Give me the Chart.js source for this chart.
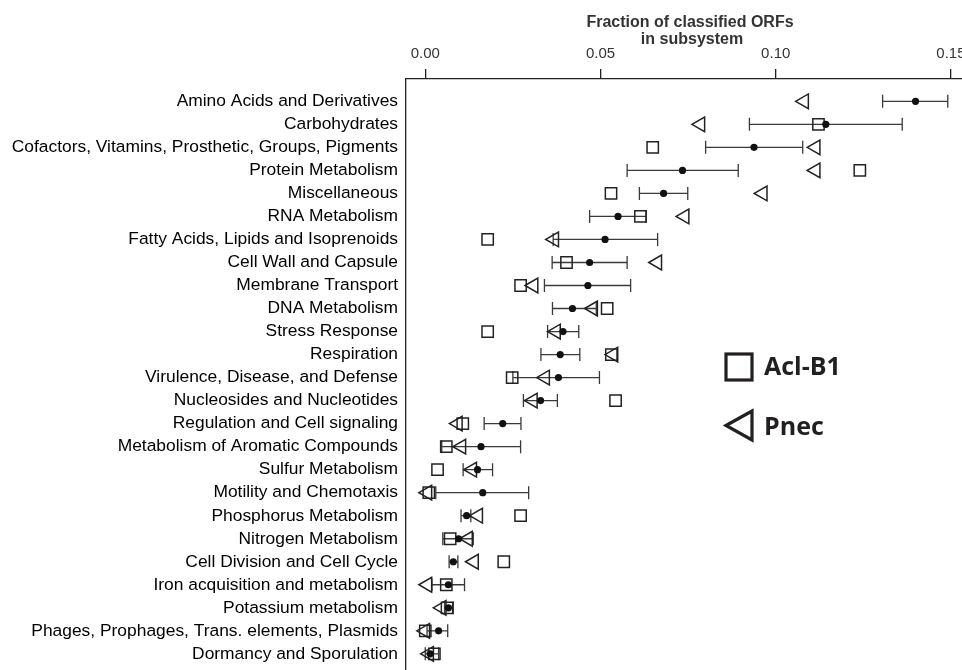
<!DOCTYPE html>
<html>
<head>
<meta charset="utf-8">
<script src="https://cdn.jsdelivr.net/npm/chart.js@4/dist/chart.umd.min.js"></script>
<style>
  html, body { margin: 0; padding: 0; background: #fff; overflow: hidden; }
  #wrap { position: absolute; left: 0; top: 0; width: 1010px; height: 690px; }
</style>
</head>
<body>
<div id="wrap"><canvas id="orfs" width="1010" height="690"></canvas></div>
<script>
const categories = [
  'Amino Acids and Derivatives',
  'Carbohydrates',
  'Cofactors, Vitamins, Prosthetic, Groups, Pigments',
  'Protein Metabolism',
  'Miscellaneous',
  'RNA Metabolism',
  'Fatty Acids, Lipids and Isoprenoids',
  'Cell Wall and Capsule',
  'Membrane Transport',
  'DNA Metabolism',
  'Stress Response',
  'Respiration',
  'Virulence, Disease, and Defense',
  'Nucleosides and Nucleotides',
  'Regulation and Cell signaling',
  'Metabolism of Aromatic Compounds',
  'Sulfur Metabolism',
  'Motility and Chemotaxis',
  'Phosphorus Metabolism',
  'Nitrogen Metabolism',
  'Cell Division and Cell Cycle',
  'Iron acquisition and metabolism',
  'Potassium metabolism',
  'Phages, Prophages, Trans. elements, Plasmids',
  'Dormancy and Sporulation'
];

// Acl-B1 (squares), Pnec (triangles)
const aclB1 = [null, 0.1122, 0.0649, 0.1240, 0.0530, 0.0614, 0.0178, 0.0403, 0.0272, 0.0519, 0.0178, 0.0531, 0.0248,
  0.0543, 0.0107, 0.0060, 0.0035, 0.0010, 0.0272, 0.0071, 0.0224, 0.0060, 0.0062, 0.0000, 0.0026];
const pnec = [0.1081, 0.0785, 0.1114, 0.1114, 0.0963, 0.0740, 0.0368, 0.0662, 0.0309, 0.0479, 0.0373, 0.0537, 0.0342,
  0.0307, 0.0093, 0.0103, 0.0134, 0.0006, 0.0151, 0.0122, 0.0139, 0.0006, 0.0047, 0.0000, 0.0011];

// mean of the other genomes with its range
const meanFrac = [0.1399, 0.1143, 0.0938, 0.0734, 0.0680, 0.0550, 0.0513, 0.0469, 0.0464, 0.0420, 0.0393, 0.0385, 0.0380,
  0.0329, 0.0221, 0.0159, 0.0149, 0.0164, 0.0118, 0.0095, 0.0080, 0.0066, 0.0066, 0.0038, 0.0014];
const lowFrac = [0.1305, 0.0925, 0.0800, 0.0576, 0.0611, 0.0469, 0.0365, 0.0362, 0.0340, 0.0363, 0.0349, 0.0330, 0.0250,
  0.0280, 0.0168, 0.0047, 0.0108, 0.0030, 0.0102, 0.0050, 0.0068, 0.0019, 0.0055, 0.0005, 0.0000];
const highFrac = [0.1491, 0.1361, 0.1077, 0.0893, 0.0749, 0.0630, 0.0663, 0.0576, 0.0586, 0.0488, 0.0438, 0.0441, 0.0497,
  0.0377, 0.0273, 0.0272, 0.0192, 0.0295, 0.0130, 0.0137, 0.0093, 0.0112, 0.0080, 0.0064, 0.0038];

const xTicks = [0, 0.05, 0.10, 0.15];

function toPoints(arr) {
  const pts = [];
  arr.forEach((v, i) => { if (v !== null) pts.push({ x: v, y: i }); });
  return pts;
}

// horizontal range bars with caps, drawn under the markers
const errorBars = {
  id: 'errorBars',
  beforeDatasetsDraw(chart) {
    const ctx = chart.ctx;
    const xs = chart.scales.x, ys = chart.scales.y;
    ctx.save();
    ctx.strokeStyle = '#3a3a3a';
    ctx.lineWidth = 1.3;
    for (let i = 0; i < categories.length; i++) {
      const y = ys.getPixelForValue(i);
      const x1 = xs.getPixelForValue(lowFrac[i]);
      const x2 = xs.getPixelForValue(highFrac[i]);
      ctx.beginPath();
      ctx.moveTo(x1, y); ctx.lineTo(x2, y);
      ctx.moveTo(x1, y - 6.5); ctx.lineTo(x1, y + 6.5);
      ctx.moveTo(x2, y - 6.5); ctx.lineTo(x2, y + 6.5);
      ctx.stroke();
    }
    ctx.restore();
  }
};

// axis title and the marker key
const extras = {
  id: 'extras',
  afterDraw(chart) {
    const ctx = chart.ctx;
    ctx.save();
    ctx.fillStyle = '#333';
    ctx.font = 'bold 16px "Liberation Sans", Arial, sans-serif';
    ctx.textAlign = 'center';
    ctx.textBaseline = 'alphabetic';
    ctx.fillText('Fraction of classified ORFs', 690, 27);
    ctx.fillText('in subsystem', 692, 44);

    ctx.strokeStyle = '#231f20';
    ctx.lineWidth = 3.2;
    ctx.strokeRect(726, 354, 26, 26);
    ctx.beginPath();
    ctx.moveTo(726, 425.5);
    ctx.lineTo(752, 411);
    ctx.lineTo(752, 440);
    ctx.closePath();
    ctx.stroke();

    ctx.fillStyle = '#231f20';
    ctx.textAlign = 'left';
    ctx.font = 'bold 25px "Open Sans", "Liberation Sans", sans-serif';
    ctx.fillText('Acl-B1', 764, 375);
    ctx.fillText('Pnec', 764, 435);
    ctx.restore();
  }
};

const ctx = document.getElementById('orfs').getContext('2d');
const chart = new Chart(ctx, {
  type: 'scatter',
  data: {
    datasets: [
      {
        label: 'Mean',
        data: toPoints(meanFrac),
        pointStyle: 'circle',
        pointRadius: 3.6,
        backgroundColor: '#111',
        borderColor: '#111',
        borderWidth: 0
      },
      {
        label: 'Acl-B1',
        data: toPoints(aclB1),
        pointStyle: 'rect',
        pointRadius: 8,
        backgroundColor: 'rgba(0,0,0,0)',
        borderColor: '#222',
        borderWidth: 1.5
      },
      {
        label: 'Pnec',
        data: toPoints(pnec),
        pointStyle: 'triangle',
        rotation: -90,
        pointRadius: 8.5,
        backgroundColor: 'rgba(0,0,0,0)',
        borderColor: '#222',
        borderWidth: 1.5
      }
    ]
  },
  options: {
    responsive: false,
    animation: false,
    devicePixelRatio: 1,
    layout: { padding: 0 },
    scales: {
      x: {
        type: 'linear',
        position: 'top',
        min: -0.0055,
        max: 0.1640,
        afterBuildTicks: (scale) => { scale.ticks = xTicks.map(v => ({ value: v })); },
        afterFit: (scale) => { scale.height = 79; },
        ticks: {
          padding: 6,
          color: '#333',
          font: { family: '"Liberation Sans", Arial, sans-serif', size: 15 },
          callback: (v) => Number(v).toFixed(2)
        },
        grid: { drawOnChartArea: false, drawTicks: true, tickLength: 10, color: '#222', lineWidth: 1.3 },
        border: { display: true, color: '#222', width: 1.3 }
      },
      y: {
        type: 'linear',
        reverse: true,
        min: -0.97,
        max: 24.77,
        afterBuildTicks: (scale) => { scale.ticks = categories.map((c, i) => ({ value: i })); },
        afterFit: (scale) => { scale.width = 406; },
        ticks: {
          autoSkip: false,
          padding: 8,
          color: '#000',
          font: { family: '"Liberation Sans", Arial, sans-serif', size: 17.4 },
          callback: (v) => categories[v]
        },
        grid: { display: false, drawTicks: false },
        border: { display: true, color: '#222', width: 1.3 }
      }
    },
    plugins: {
      legend: { display: false },
      tooltip: { enabled: false }
    }
  },
  plugins: [errorBars, extras]
});
</script>
</body>
</html>
